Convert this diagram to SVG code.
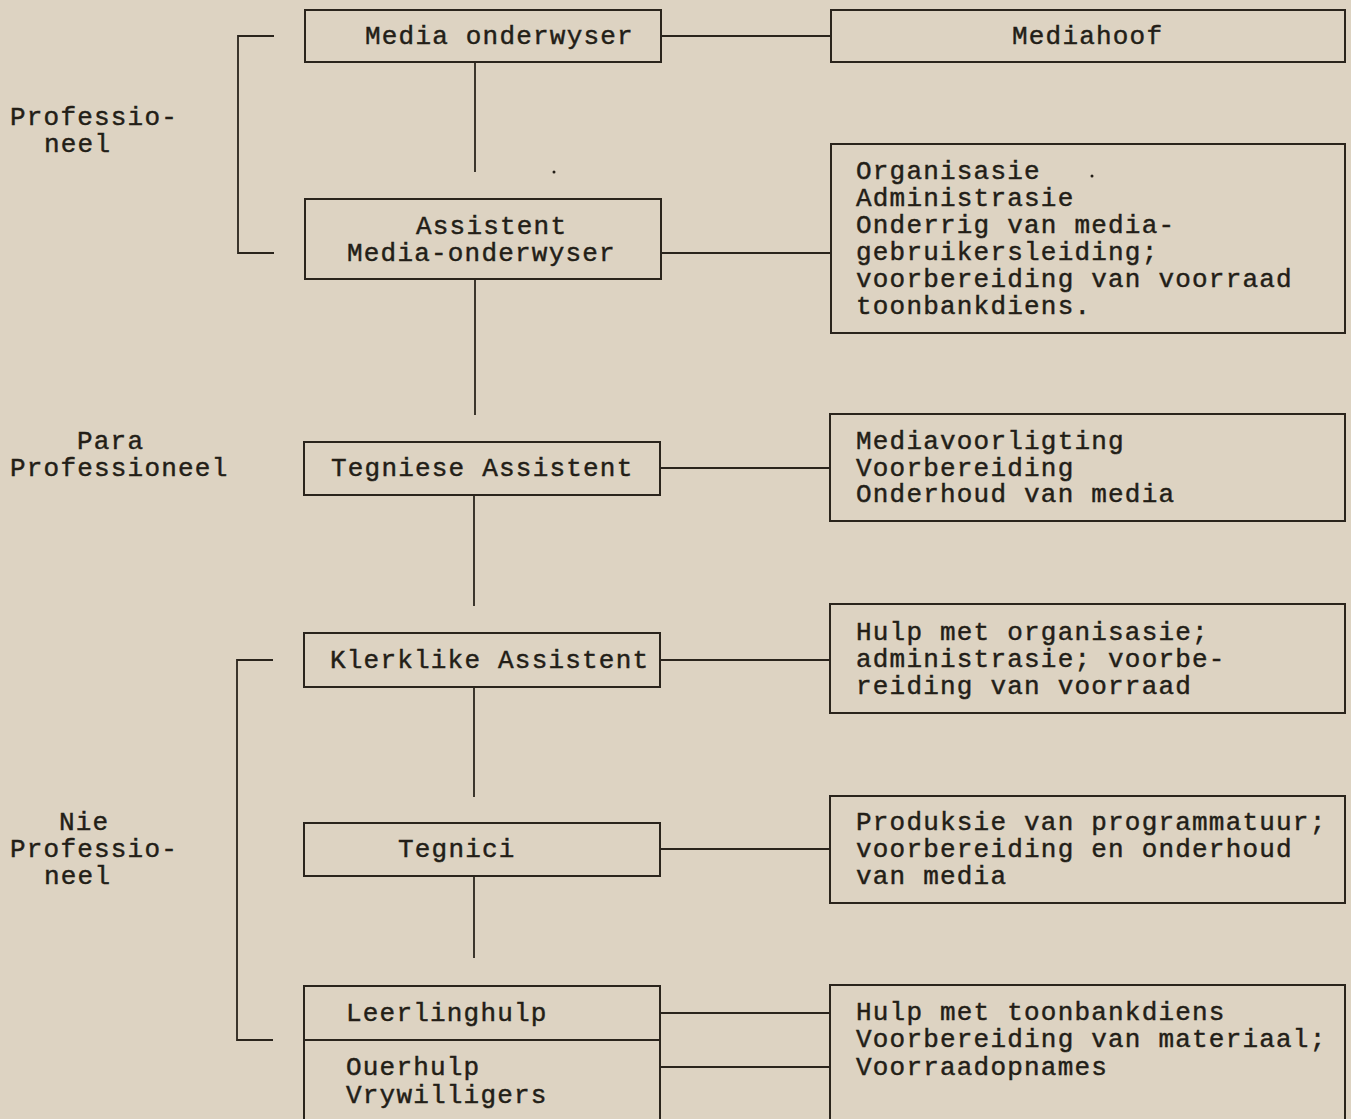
<svg xmlns="http://www.w3.org/2000/svg" width="1351" height="1119" viewBox="0 0 1351 1119">
<style>
.bg{fill:#ddd3c2}
.box{fill:none;stroke:#2a241c;stroke-width:2}
.ln{fill:none;stroke:#2a241c;stroke-width:1.8}
text{font-family:"Liberation Mono","Courier New","DejaVu Sans Mono",monospace;font-size:26px;letter-spacing:1.2px;fill:#231e17;stroke:#231e17;stroke-width:0.45}
.dot{fill:#231e17}
</style>
<rect class="bg" x="0" y="0" width="1351" height="1119"/>
<g id="connectors">
<path class="ln" d="M661 36H831"/>
<path class="ln" d="M475 62V172"/>
<path class="ln" d="M661 253H831"/>
<path class="ln" d="M475 279V415"/>
<path class="ln" d="M660 468H830"/>
<path class="ln" d="M474 495V606"/>
<path class="ln" d="M660 660H830"/>
<path class="ln" d="M474 687V797"/>
<path class="ln" d="M660 849H830"/>
<path class="ln" d="M474 876V958"/>
<path class="ln" d="M660 1013H830"/>
<path class="ln" d="M660 1067H830"/>
<path class="ln" d="M274 36H238V253H274"/>
<path class="ln" d="M273 660H237V1040H273"/>
</g>
<g id="label-professioneel">
<text x="10" y="125">Professio-</text>
<text x="44" y="152">neel</text>
</g>
<g id="label-para">
<text x="77" y="449">Para</text>
<text x="10" y="476">Professioneel</text>
</g>
<g id="label-nie">
<text x="59" y="830">Nie</text>
<text x="10" y="857">Professio-</text>
<text x="44" y="884">neel</text>
</g>
<g id="media-onderwyser">
<rect class="box" x="305" y="10" width="356" height="52"/>
<text x="365" y="44">Media onderwyser</text>
</g>
<g id="mediahoof">
<rect class="box" x="831" y="10" width="514" height="52"/>
<text x="1012" y="44">Mediahoof</text>
</g>
<circle class="dot" cx="554" cy="172" r="1.5"/>
<g id="assistent">
<rect class="box" x="305" y="199" width="356" height="80"/>
<text x="416" y="234">Assistent</text>
<text x="347" y="261">Media-onderwyser</text>
</g>
<g id="assistent-tasks">
<rect class="box" x="831" y="144" width="514" height="189"/>
<text x="856" y="179">Organisasie</text>
<circle class="dot" cx="1092" cy="176" r="1.5"/>
<text x="856" y="206">Administrasie</text>
<text x="856" y="233">Onderrig van media-</text>
<text x="856" y="260">gebruikersleiding;</text>
<text x="856" y="287">voorbereiding van voorraad</text>
<text x="856" y="314">toonbankdiens.</text>
</g>
<g id="tegniese-assistent">
<rect class="box" x="304" y="442" width="356" height="53"/>
<text x="331" y="476">Tegniese Assistent</text>
</g>
<g id="tegniese-tasks">
<rect class="box" x="830" y="414" width="515" height="107"/>
<text x="856" y="449">Mediavoorligting</text>
<text x="856" y="476">Voorbereiding</text>
<text x="856" y="502">Onderhoud van media</text>
</g>
<g id="klerklike-assistent">
<rect class="box" x="304" y="633" width="356" height="54"/>
<text x="330" y="668">Klerklike Assistent</text>
</g>
<g id="klerklike-tasks">
<rect class="box" x="830" y="604" width="515" height="109"/>
<text x="856" y="640">Hulp met organisasie;</text>
<text x="856" y="667">administrasie; voorbe-</text>
<text x="856" y="694">reiding van voorraad</text>
</g>
<g id="tegnici">
<rect class="box" x="304" y="823" width="356" height="53"/>
<text x="398" y="857">Tegnici</text>
</g>
<g id="tegnici-tasks">
<rect class="box" x="830" y="796" width="515" height="107"/>
<text x="856" y="830">Produksie van programmatuur;</text>
<text x="856" y="857">voorbereiding en onderhoud</text>
<text x="856" y="884">van media</text>
</g>
<g id="leerlinghulp">
<path class="box" d="M304 1125V986H660V1125M304 1040H660"/>
<text x="346" y="1021">Leerlinghulp</text>
<text x="346" y="1075">Ouerhulp</text>
<text x="346" y="1103">Vrywilligers</text>
</g>
<g id="hulp-tasks">
<path class="box" d="M830 1125V985H1345V1125"/>
<text x="856" y="1020">Hulp met toonbankdiens</text>
<text x="856" y="1047">Voorbereiding van materiaal;</text>
<text x="856" y="1075">Voorraadopnames</text>
</g>
</svg>
